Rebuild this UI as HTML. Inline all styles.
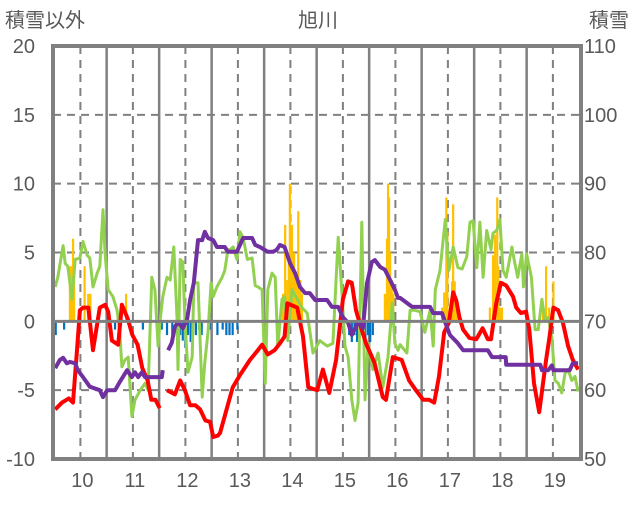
<!DOCTYPE html>
<html><head><meta charset="utf-8"><style>
html,body{margin:0;padding:0;background:#fff;}
svg text{font-family:"Liberation Sans","Noto Sans CJK JP",sans-serif;fill:#595959;}
</style></head><body>
<svg id="chart" width="636" height="501" viewBox="0 0 636 501" xmlns="http://www.w3.org/2000/svg">
<text x="5" y="27" font-size="20">積雪以外</text>
<text x="318" y="27" font-size="20" text-anchor="middle">旭川</text>
<text x="589" y="27" font-size="20">積雪</text>
<g id="grid"></g>
<g id="bars"></g>
<g id="lines"></g>
<g id="frame"></g>
<g id="ticks"></g>
</svg>
<script>
const leftTicks=[20,15,10,5,0,-5,-10];
const rightTicks=[110,100,90,80,70,60,50];
const dayLabels=[10,11,12,13,14,15,16,17,18,19];

const greenT=[9.52,9.57,9.67,9.71,9.76,9.84,9.90,9.99,10.05,10.13,10.18,10.24,10.32,10.37,10.43,10.47,10.53,10.62,10.70,10.75,10.79,10.85,10.91,10.98,11.04,11.14,11.23,11.29,11.36,11.42,11.48,11.52,11.57,11.65,11.71,11.78,11.84,11.86,11.90,11.95,11.99,12.05,12.13,12.16,12.24,12.32,12.37,12.43,12.49,12.53,12.60,12.70,12.75,12.81,12.85,12.91,12.98,13.04,13.10,13.18,13.27,13.33,13.38,13.46,13.52,13.57,13.65,13.71,13.76,13.84,13.89,13.95,14.03,14.13,14.22,14.32,14.43,14.56,14.70,14.81,14.91,14.98,15.04,15.10,15.17,15.23,15.29,15.36,15.42,15.48,15.57,15.67,15.76,15.86,15.94,15.99,16.05,16.09,16.22,16.28,16.37,16.47,16.56,16.66,16.72,16.76,16.85,16.95,17.02,17.10,17.19,17.27,17.36,17.42,17.48,17.55,17.61,17.67,17.74,17.82,17.86,17.93,17.99,18.05,18.11,18.22,18.26,18.33,18.41,18.44,18.50,18.59,18.66,18.72,18.79,18.85,18.91,18.98,19.04,19.10,19.17,19.23,19.29,19.36,19.42,19.48];
const greenV=[2.5,3.2,5.5,4.2,4.0,1.6,4.5,4.6,5.8,4.8,4.6,2.5,3.5,4.0,8.1,4.9,2.3,1.8,0.8,-0.8,-3.3,-2.8,-2.6,-6.9,-5.7,-5.0,-4.5,-5.0,3.2,2.3,-1.8,0.1,1.8,3.2,3.0,5.4,0.3,-3.5,4.5,4.3,0.1,-3.7,-2.6,2.8,2.8,-5.5,-3.0,-0.8,2.8,1.8,2.5,3.2,3.7,5.2,5.2,5.4,4.5,6.5,6.1,4.5,4.6,2.6,2.5,2.3,-4.5,2.3,3.5,3.2,-1.8,1.6,1.8,-1.4,2.3,1.6,1.0,0.6,-2.3,-1.4,-1.8,-1.6,6.1,2.1,-1.8,-2.6,-5.7,-7.2,-5.9,7.2,-5.7,-1.6,-3.5,-2.3,-4.8,-2.6,1.3,-1.6,-2.1,-1.7,-2.3,0.8,0.8,0.7,-0.8,0.8,-1.8,2.3,3.7,7.4,3.7,5.4,3.9,3.8,4.7,7.2,7.3,3.9,7.2,3.2,6.6,5.2,6.4,6.6,7.4,3.7,3.2,5.4,4.5,3.2,4.9,2.5,4.9,3.2,-0.6,-0.6,1.6,0.1,0.3,-1.2,-4.3,-4.5,-5.2,-3.8,-3.5,-4.3,-4.0,-5.1];

const redT=[9.52,9.65,9.78,9.86,9.94,9.99,10.05,10.15,10.24,10.37,10.47,10.53,10.60,10.72,10.79,10.90,10.99,11.09,11.18,11.28,11.35,11.43,11.51,11.58,11.65,11.80,11.90,11.99,12.09,12.19,12.28,12.38,12.47,12.53,12.62,12.66,12.90,13.04,13.23,13.38,13.46,13.57,13.70,13.80,13.89,13.94,14.13,14.24,14.34,14.51,14.62,14.74,14.87,15.00,15.10,15.17,15.25,15.34,15.44,15.60,15.76,15.82,15.95,16.12,16.26,16.39,16.53,16.64,16.74,16.83,16.93,17.02,17.10,17.16,17.22,17.29,17.41,17.54,17.66,17.76,17.82,17.92,18.01,18.11,18.24,18.30,18.39,18.49,18.55,18.64,18.74,18.87,18.93,19.01,19.10,19.19,19.29,19.38,19.48];
const redV=[-6.4,-5.9,-5.6,-5.9,-1.9,0.8,1.0,1.0,-2.1,1.0,1.2,0.7,-1.4,-1.7,1.2,0.2,-1.0,-1.7,-3.4,-4.3,-5.7,-5.7,-6.3,null,-5.0,-5.3,-4.3,-5.0,-6.1,-6.1,-6.4,-7.2,-7.3,-8.4,-8.3,-8.1,-4.8,-3.9,-2.8,-2.1,-1.7,-2.4,-2.1,-1.6,-1.1,1.3,1.0,-1.1,-4.8,-5.0,-3.5,-5.2,-2.8,1.6,2.9,2.8,0.8,-0.4,-1.6,-3.0,-5.5,-5.7,-2.6,-2.8,-4.3,-5.0,-5.7,-5.7,-5.9,-4.0,-0.8,-0.1,2.1,1.5,0.3,-0.6,-1.2,-1.3,-0.5,-1.3,-1.3,1.3,2.8,2.6,1.8,1.0,0.6,0.7,-0.6,-4.5,-6.6,-2.8,-1.3,1.0,0.8,-0.1,-1.8,-2.8,-3.5];

const snowT=[9.52,9.61,9.67,9.74,9.80,9.90,9.95,10.05,10.18,10.37,10.43,10.51,10.66,10.75,10.89,10.98,11.04,11.10,11.17,11.23,11.55,11.57,11.62,11.67,11.74,11.80,11.86,11.95,12.03,12.09,12.16,12.24,12.32,12.37,12.43,12.53,12.60,12.75,12.81,12.98,13.10,13.27,13.33,13.42,13.57,13.67,13.74,13.80,13.89,13.99,14.09,14.18,14.28,14.37,14.47,14.70,14.79,14.91,15.00,15.10,15.17,15.29,15.38,15.46,15.55,15.61,15.71,15.80,15.90,15.99,16.05,16.09,16.32,16.66,16.72,16.89,16.95,17.04,17.18,17.29,17.76,17.84,18.10,18.11,18.76,18.79,18.91,18.98,19.01,19.32,19.38,19.48];
const snowV=[63.2,64.4,64.7,63.9,64.1,63.9,62.9,61.9,60.5,60.0,59.0,60.0,60.0,61.2,62.9,61.9,62.6,61.9,62.6,61.9,61.9,62.9,null,65.8,66.9,69.2,69.9,69.0,70.2,73.1,75.6,81.8,81.8,83.0,82.1,81.8,80.8,80.8,80.1,80.1,82.1,82.1,81.1,80.8,80.1,80.1,80.4,81.1,80.8,78.5,77.0,75.0,74.1,74.1,73.1,73.1,72.1,72.1,70.6,69.8,68.0,69.9,69.0,75.6,78.6,78.9,77.9,77.5,76.0,74.6,73.4,73.4,72.1,72.1,71.2,71.2,69.8,68.0,66.9,65.8,65.8,64.8,64.8,63.7,63.7,62.9,62.9,63.6,62.9,62.9,63.9,63.9];

const barT=[9.80,9.84,9.86,9.88,10.08,10.15,10.19,10.87,13.86,13.90,13.94,13.97,13.99,14.03,14.07,14.11,14.15,14.19,14.22,15.80,15.84,15.86,15.88,15.90,15.93,15.96,16.89,16.93,16.97,16.99,17.06,17.08,17.10,17.13,17.17,17.80,17.86,17.90,17.94,17.96,17.99,18.03,18.81,18.87,18.93,19.01,
9.53,9.69,10.66,10.94,11.19,11.55,11.65,11.75,11.85,11.90,11.95,12.00,12.05,12.10,12.14,12.20,12.26,12.31,12.46,12.61,12.71,12.78,12.84,12.90,12.99,15.12,15.17,15.22,15.27,15.33,15.38,15.43,15.48,15.52,15.57];
const barV=[4,4,6,4,4,2,2,2,2,7,3,5,10,7,5,3.6,8,3,2,2,6,10,9,5,3,2,1,2.1,9,6.5,1,2.9,8.5,2.9,1.7,1,4.8,6.3,9,4,1,1,1,4,1,2.9,
-1.0,-0.6,-0.6,-0.6,-0.6,-0.6,-1.0,-1.0,-0.6,-1.0,-1.4,-1.9,-1.0,-1.5,-1.0,-1.0,-0.6,-1.0,-0.6,-1.0,-0.6,-1.0,-1.0,-1.0,-0.6,-1.0,-1.5,-1.0,-1.5,-1.0,-0.5,-1.5,-1.0,-1.5,-1.0];

const NS='http://www.w3.org/2000/svg';
const X0=53,X1=581,YT=46,YB=459;
function xs(t){return 80.4+(t-10)*52.5;}
function yl(v){return YB-(v+10)*(YB-YT)/30;}
function yr(v){return YB-(v-50)*(YB-YT)/60;}
function mk(tag,attrs,parent){const e=document.createElementNS(NS,tag);for(const k in attrs)e.setAttribute(k,attrs[k]);parent.appendChild(e);return e;}
const grid=document.getElementById('grid'),bars=document.getElementById('bars'),lines=document.getElementById('lines'),frame=document.getElementById('frame'),ticks=document.getElementById('ticks');

leftTicks.forEach(v=>{
  const y=yl(v);
  if(v!==20&&v!==-10&&v!==0){
    const l=mk('line',{x1:X0,x2:X1,y1:y,y2:y,stroke:'#808080','stroke-width':2,'stroke-dasharray':'8,6'},grid);
    
    
  }
  const tx=mk('text',{x:35,y:y+7,'font-size':20,'text-anchor':'end'},ticks);
  tx.textContent=v;
  
  
});
rightTicks.forEach(v=>{
  const tx=mk('text',{x:584,y:yr(v)+7,'font-size':20},ticks);
  tx.textContent=v;
  
  
});
dayLabels.forEach(d=>{
  const x=xs(d);
  const l=mk('line',{x1:x,x2:x,y1:YT,y2:YB,stroke:'#808080','stroke-width':2,'stroke-dasharray':'8,6'},grid);
  
  
  if(d<19){
    const s=mk('line',{x1:xs(d+0.5),x2:xs(d+0.5),y1:YT,y2:YB,stroke:'#808080','stroke-width':2.5},grid);
    
    
  }
  const tx=mk('text',{x:x+2,y:487,'font-size':20,'text-anchor':'middle'},ticks);
  tx.textContent=d;
  
  
});

barT.forEach((t,i)=>{
  const v=barV[i];
  const y0=yl(0),y1=yl(v);
  const r=mk('rect',{x:xs(t)-1.1,y:Math.min(y0,y1),width:2.2,height:Math.abs(y1-y0),fill:v>0?'#ffc000':'#0070c0'},bars);
  
  
});

function path(T,V,fy,color,w,name){
  let d='',pen=false;
  T.forEach((t,i)=>{
    if(V[i]===null){pen=false;return;}
    d+=(pen?'L':'M')+xs(t).toFixed(1)+','+fy(V[i]).toFixed(1);
    pen=true;
  });
  const p=mk('path',{d:d,fill:'none',stroke:color,'stroke-width':w,'stroke-linejoin':'round'},lines);
  
  
}
path(greenT,greenV,yl,'#92d050',3,'green-series-line');
path(redT,redV,yl,'#ff0000',4,'red-series-line');
path(snowT,snowV,yr,'#7030a0',4,'snow-depth-line');

const z=mk('line',{x1:X0,x2:X1,y1:yl(0),y2:yl(0),stroke:'#808080','stroke-width':3},frame);


const fr=mk('rect',{x:X0,y:YT,width:X1-X0,height:YB-YT,fill:'none',stroke:'#808080','stroke-width':4},frame);


</script>
</body></html>
